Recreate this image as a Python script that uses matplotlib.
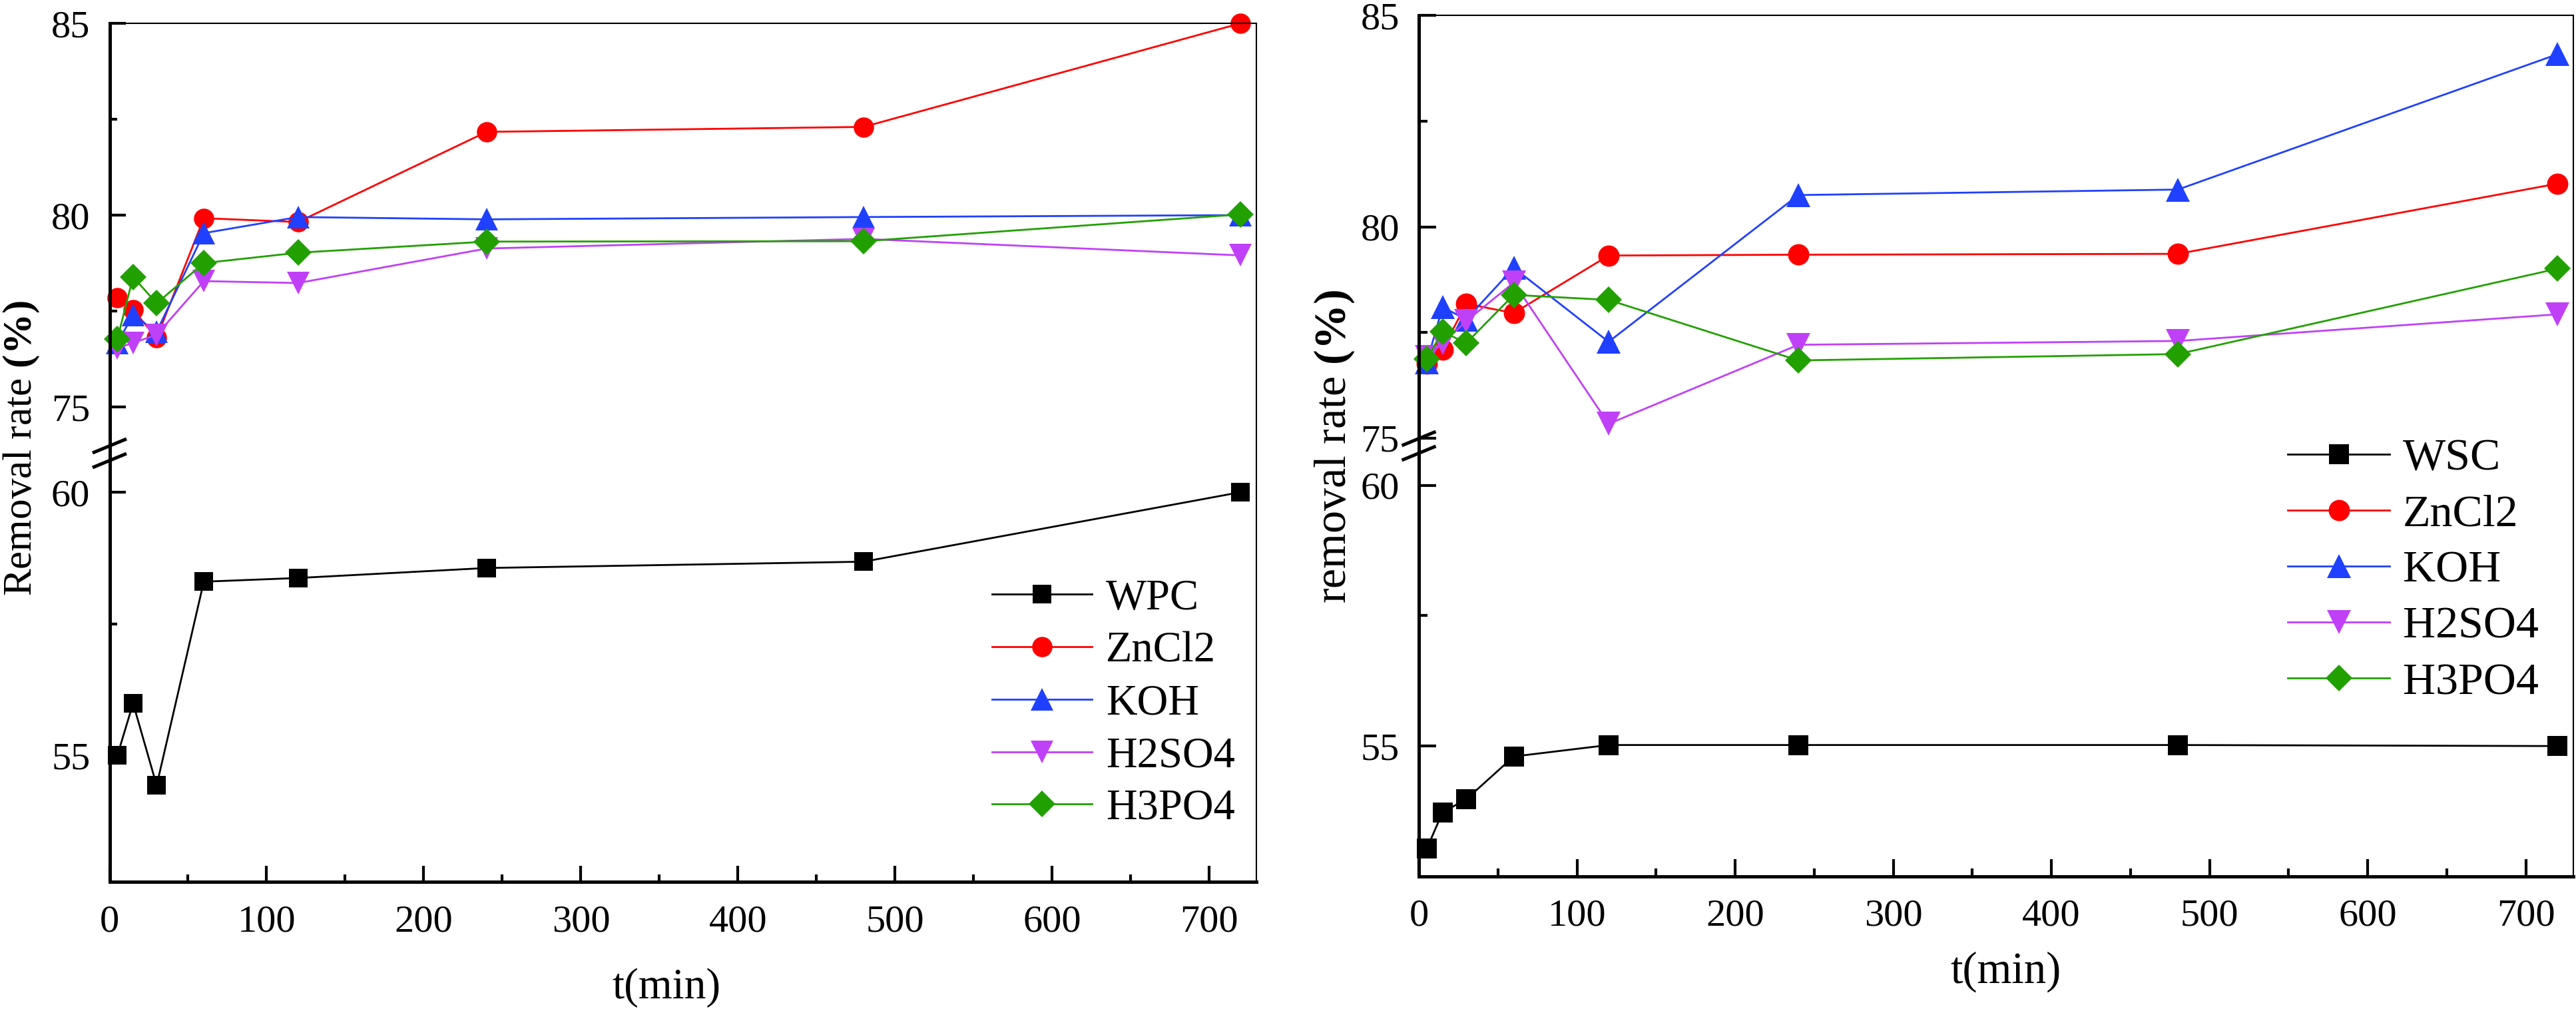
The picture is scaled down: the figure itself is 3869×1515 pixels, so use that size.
import numpy as np
import matplotlib
matplotlib.use("Agg")
import matplotlib.pyplot as plt
from matplotlib.scale import FuncScale
from matplotlib.lines import Line2D

plt.rcParams['font.family'] = ['Liberation Serif', 'DejaVu Serif']
plt.rcParams['mathtext.fontset'] = 'custom'
plt.rcParams['mathtext.rm'] = 'Liberation Serif'
plt.rcParams['mathtext.bf'] = 'Liberation Serif:bold'

# ---------------- data ----------------
t = [5, 15, 30, 60, 120, 240, 480, 720]

# left panel (WPC)
WPC = [55.0, 55.99, 54.43, 58.30, 58.37, 58.56, 58.68, 60.0]
ZnCl2_L = [77.85, 77.53, 76.8, 79.92, 79.82, 82.17, 82.30, 85.0]
KOH_L = [76.67, 77.4, 76.96, 79.53, 79.95, 79.89, 79.95, 80.0]
H2SO4_L = [76.53, 76.67, 76.88, 78.28, 78.23, 79.13, 79.38, 78.95]
H3PO4_L = [76.77, 78.39, 77.7, 78.75, 79.02, 79.31, 79.32, 80.02]

# right panel (WSC)
WSC = [53.03, 53.73, 53.98, 54.8, 55.02, 55.02, 55.02, 55.0]
ZnCl2_R = [76.77, 77.1, 78.18, 77.96, 79.32, 79.34, 79.36, 81.02]
KOH_R = [76.79, 78.1, 77.81, 79.03, 77.28, 80.75, 80.88, 84.08]
H2SO4_R = [76.92, 77.25, 77.77, 78.68, 75.34, 77.21, 77.30, 77.93]
H3PO4_R = [76.87, 77.52, 77.25, 78.39, 78.27, 76.84, 76.99, 79.01]

labels_L = ['WPC', 'ZnCl2', 'KOH', 'H2SO4', 'H3PO4']
labels_R = ['WSC', 'ZnCl2', 'KOH', 'H2SO4', 'H3PO4']
xticks = [0, 100, 200, 300, 400, 500, 600, 700]
yticks = [55, 60, 75, 80, 85]

colors = ['#000000', '#FF0000', '#2040FF', '#C040F8', '#22A000']
markers = ['s', 'o', '^', 'v', 'D']

W, H = 3869, 1515
fig = plt.figure(figsize=(W / 100, H / 100), dpi=100)


def piecewise(xp, fp):
    xp = np.asarray(xp, float)
    fp = np.asarray(fp, float)

    def f(x):
        x = np.asarray(x, float)
        shp = x.shape
        x1 = np.atleast_1d(x).astype(float)
        y = np.interp(x1, xp, fp)
        lo = x1 < xp[0]
        hi = x1 > xp[-1]
        s0 = (fp[1] - fp[0]) / (xp[1] - xp[0])
        s1 = (fp[-1] - fp[-2]) / (xp[-1] - xp[-2])
        y[lo] = fp[0] + (x1[lo] - xp[0]) * s0
        y[hi] = fp[-1] + (x1[hi] - xp[-1]) * s1
        return y.reshape(shp)
    return f


def setup(ax, knots_v, knots_p, ylow, tick_major_len, tick_minor_len):
    fwd = piecewise(knots_v, knots_p)
    inv = piecewise(knots_p, knots_v)
    ax.set_yscale(FuncScale(ax.yaxis, (fwd, inv)))
    ax.set_ylim(ylow, 85)
    ax.set_xlim(0, 730)
    ax.set_xticks(xticks)
    ax.set_xticks([50, 150, 250, 350, 450, 550, 650], minor=True)
    ax.set_yticks(yticks)
    ax.set_yticks([57.5, 77.5, 82.5], minor=True)
    ax.set_yticklabels([str(v) for v in yticks])
    ax.set_xticklabels([str(v) for v in xticks])
    ax.yaxis.set_minor_formatter(plt.NullFormatter())
    ax.tick_params(axis='both', which='major', direction='in',
                   length=tick_major_len, width=3, labelsize=42)
    ax.tick_params(axis='both', which='minor', direction='in',
                   length=tick_minor_len, width=3)
    ax.tick_params(axis='x', which='major', pad=25)
    ax.tick_params(axis='y', which='major', pad=21)
    ax.tick_params(top=False, right=False, which='both')
    ax.spines['left'].set_linewidth(3.6)
    ax.spines['bottom'].set_linewidth(3.6)
    ax.spines['top'].set_linewidth(1.5)
    ax.spines['right'].set_linewidth(1.5)


def break_marks(ax, frac_y, ax_w_px, ax_h_px):
    dx = 25.5 / ax_w_px
    dy = 10.5 / ax_h_px
    off = 11.0 / ax_h_px
    for c in (frac_y + off, frac_y - off):
        ax.add_line(Line2D([-dx, dx], [c - dy, c + dy], transform=ax.transAxes,
                           color='black', lw=3.6, clip_on=False, zorder=10,
                           solid_capstyle='butt'))


# ---------------- left panel ----------------
axL = fig.add_axes([164.5 / W, (H - 1324) / H, (1887 - 164.5) / W, 1289 / H])
setup(axL, [52.6, 60, 75, 85], [0, 585, 713, 1289], 52.6, 17, 8)
sizes_L = [19.5, 22, 25, 25, 20.5]
for ys, c, m, ms, lab in zip([WPC, ZnCl2_L, KOH_L, H2SO4_L, H3PO4_L], colors, markers, sizes_L, labels_L):
    axL.plot(t, ys, color=c, marker=m, markersize=ms, lw=2.0, mew=0,
             label=lab, clip_on=False)
break_marks(axL, 0.4992, 1722.5, 1289)
legL = axL.legend(loc='upper left', bbox_to_anchor=(1490 / W, 1 - 869 / H),
                  bbox_transform=fig.transFigure, frameon=False, borderpad=0,
                  borderaxespad=0, handlelength=2.33, handletextpad=0.32,
                  labelspacing=0.30, fontsize=46.5)
fig.text(32 / W, 1 - 673 / H, r'Removal rate $\mathbf{(\%)}$', rotation=90,
         ha='center', va='center', fontsize=44)
fig.text(1001 / W, 1 - 1483 / H, 't(min)', ha='center', va='center', fontsize=47)

# ---------------- right panel ----------------
axR = fig.add_axes([2131 / W, (H - 1316) / H, 1734 / W, 1293 / H])
setup(axR, [52.5, 60, 75, 85], [0, 587.4, 658, 1293], 52.5, 19, 9)
axR.tick_params(axis='x', which='major', pad=24)
sizes_R = [22, 23, 26, 26, 20]
for ys, c, m, ms, lab in zip([WSC, ZnCl2_R, KOH_R, H2SO4_R, H3PO4_R], colors, markers, sizes_R, labels_R):
    axR.plot(t, ys, color=c, marker=m, markersize=ms, lw=2.0, mew=0,
             label=lab, clip_on=False)
break_marks(axR, 0.5, 1734, 1293)
legR = axR.legend(loc='upper left', bbox_to_anchor=(3436 / W, 1 - 658 / H),
                  bbox_transform=fig.transFigure, frameon=False, borderpad=0,
                  borderaxespad=0, handlelength=2.25, handletextpad=0.29,
                  labelspacing=0.33, fontsize=49)
fig.text(2004 / W, 1 - 670 / H, r'removal rate $\mathbf{(\%)}$', rotation=90,
         ha='center', va='center', fontsize=49)
fig.text(3013 / W, 1 - 1459 / H, 't(min)', ha='center', va='center', fontsize=48)

fig.savefig('out.png', dpi=100)
